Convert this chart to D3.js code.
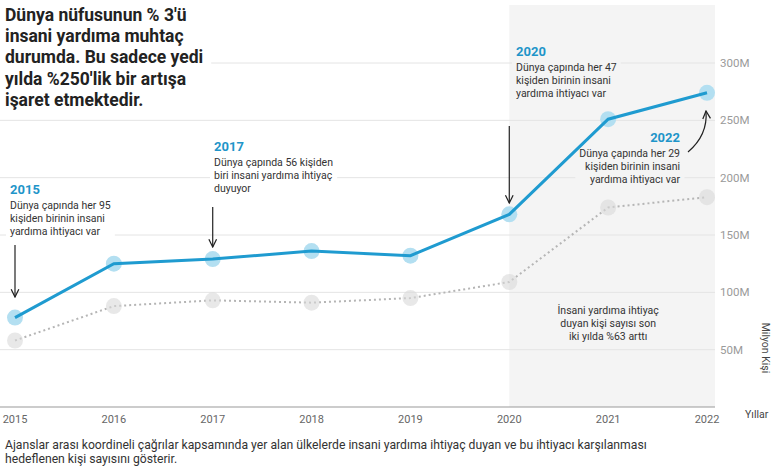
<!DOCTYPE html>
<html>
<head>
<meta charset="utf-8">
<script src="https://cdn.jsdelivr.net/npm/d3@7"></script>
<style>
  body { margin: 0; background: #fff; }
  text { font-family: Roboto, "Open Sans", sans-serif; }
</style>
</head>
<body>
<script>
// values (million people)
var years = [2015, 2016, 2017, 2018, 2019, 2020, 2021, 2022];
var inNeed = [78, 125, 129, 136, 132, 168, 251, 274];
var targeted = [58, 88, 93, 91, 95, 109, 174, 183];
var yTicks = [50, 100, 150, 200, 250, 300];

var titleLines = ["Dünya nüfusunun % 3'ü", "insani yardıma muhtaç", "durumda. Bu sadece yedi", "yılda %250'lik bir artışa", "işaret etmektedir."];
var footLines = ["Ajanslar arası koordineli çağrılar kapsamında yer alan ülkelerde insani yardıma ihtiyaç duyan ve bu ihtiyacı karşılanması", "hedeflenen kişi sayısını gösterir."];

var width = 771, height = 473;
var svg = d3.select("body").append("svg").attr("width", width).attr("height", height);

var x = d3.scaleLinear().domain([2015, 2022]).range([15, 707]);
var y = d3.scaleLinear().domain([0, 300]).range([407, 63]);
var shade = "#f4f4f4";

// shaded last two years
svg.append("rect")
  .attr("x", x(2020)).attr("y", 5)
  .attr("width", 715 - x(2020)).attr("height", y(0) - 5)
  .attr("fill", shade);

// grid
svg.selectAll(".grid").data(yTicks).enter().append("line")
  .attr("x1", 0).attr("x2", 715)
  .attr("y1", function(d){ return y(d); }).attr("y2", function(d){ return y(d); })
  .attr("stroke", "#e4e4e4").attr("stroke-width", 1);

svg.selectAll(".ylab").data(yTicks).enter().append("text")
  .attr("x", 720).attr("y", function(d){ return y(d) + 4; })
  .attr("font-size", 11.5).attr("fill", "#9a9a9a")
  .text(function(d){ return d + "M"; });

// bottom axis line
svg.append("line").attr("x1", 0).attr("x2", 715).attr("y1", y(0)).attr("y2", y(0))
  .attr("stroke", "#9a9a9a").attr("stroke-width", 1.2);

svg.selectAll(".xlab").data(years).enter().append("text")
  .attr("x", function(d){ return x(d); }).attr("y", 423)
  .attr("text-anchor", "middle").attr("font-size", 11).attr("fill", "#666")
  .text(function(d){ return d; });

svg.append("text").attr("x", 745).attr("y", 418).attr("font-size", 10.5).attr("fill", "#444").text("Yıllar");
svg.append("text").attr("transform", "translate(762,348) rotate(90)")
  .attr("text-anchor", "middle").attr("font-size", 10.5).attr("fill", "#444").text("Milyon Kişi");

// annotation blocks
function note(cx, cy, head, lines, anchor, bg) {
  var g = svg.append("g");
  var bgRect = g.append("rect").attr("fill", bg);
  g.append("text").attr("x", cx).attr("y", cy).attr("text-anchor", anchor)
    .attr("font-size", 13).attr("font-weight", "bold").attr("fill", "#1f95c9").text(head);
  lines.forEach(function(l, i){
    g.append("text").attr("x", cx).attr("y", cy + 15 + i * 13).attr("text-anchor", anchor)
      .attr("font-size", 10.5).attr("fill", "#333").text(l);
  });
  if (bg) {
    var b = g.node().getBBox();
    bgRect.attr("x", b.x - 4).attr("y", b.y - 3).attr("width", b.width + 8).attr("height", b.height + 6);
  }
}

svg.append("defs").append("marker").attr("id", "ah")
  .attr("viewBox", "0 0 10 10").attr("refX", 9).attr("refY", 5)
  .attr("markerWidth", 8).attr("markerHeight", 8).attr("orient", "auto")
  .append("path").attr("d", "M1,1 L9,5 L1,9").attr("fill", "none").attr("stroke", "#222").attr("stroke-width", 1.3);

// title
var tg = svg.append("g");
var tbg = tg.append("rect").attr("fill", "#fff");
titleLines.forEach(function(l, i){
  tg.append("text").attr("x", 5).attr("y", 21 + i * 21.2)
    .attr("font-size", 17.5).attr("font-weight", "bold").attr("fill", "#222").text(l);
});
var tb = tg.node().getBBox();
tbg.attr("x", 0).attr("y", 0).attr("width", tb.x + tb.width + 8).attr("height", tb.y + tb.height + 6);

note(10, 194, "2015", ["Dünya çapında her 95", "kişiden birinin insani", "yardıma ihtiyacı var"], "start", "#fff");
note(214, 151, "2017", ["Dünya çapında 56 kişiden", "biri insani yardıma ihtiyaç", "duyuyor"], "start", "#fff");
note(516, 56, "2020", ["Dünya çapında her 47", "kişiden birinin insani", "yardıma ihtiyacı var"], "start", shade);
note(680, 142, "2022", ["Dünya çapında her 29", "kişiden birinin insani", "yardıma ihtiyacı var"], "end", shade);

var mid = svg.append("g");
["İnsani yardıma ihtiyaç", "duyan kişi sayısı son", "iki yılda %63 arttı"].forEach(function(l, i){
  mid.append("text").attr("x", x(2021)).attr("y", 314 + i * 13).attr("text-anchor", "middle")
    .attr("font-size", 10.5).attr("fill", "#333").text(l);
});

// arrows
function arrow(d) {
  svg.append("path").attr("d", d).attr("fill", "none").attr("stroke", "#222")
    .attr("stroke-width", 1.2).attr("marker-end", "url(#ah)");
}
arrow("M" + x(2015) + ",245 L" + x(2015) + ",297");
arrow("M" + x(2017) + ",207 L" + x(2017) + ",247");
arrow("M" + x(2020) + ",126 L" + x(2020) + ",203");
arrow("M688,152 Q708,135 706,111");

// lines
var line = d3.line().x(function(d, i){ return x(years[i]); }).y(function(d){ return y(d); });

svg.append("path").datum(targeted).attr("d", line).attr("fill", "none")
  .attr("stroke", "#b5b5b5").attr("stroke-width", 2).attr("stroke-dasharray", "2,3");
svg.selectAll(".gdot").data(targeted).enter().append("circle")
  .attr("cx", function(d, i){ return x(years[i]); }).attr("cy", function(d){ return y(d); })
  .attr("r", 8).attr("fill", "#d9d9d9").attr("opacity", 0.6);

svg.selectAll(".bdot").data(inNeed).enter().append("circle")
  .attr("cx", function(d, i){ return x(years[i]); }).attr("cy", function(d){ return y(d); })
  .attr("r", 8).attr("fill", "#b3dff1");
svg.append("path").datum(inNeed).attr("d", line).attr("fill", "none")
  .attr("stroke", "#1f9bd0").attr("stroke-width", 3);

// footnote
footLines.forEach(function(l, i){
  svg.append("text").attr("x", 5).attr("y", 449 + i * 13.5)
    .attr("font-size", 12.2).attr("fill", "#333").text(l);
});
</script>
</body>
</html>
